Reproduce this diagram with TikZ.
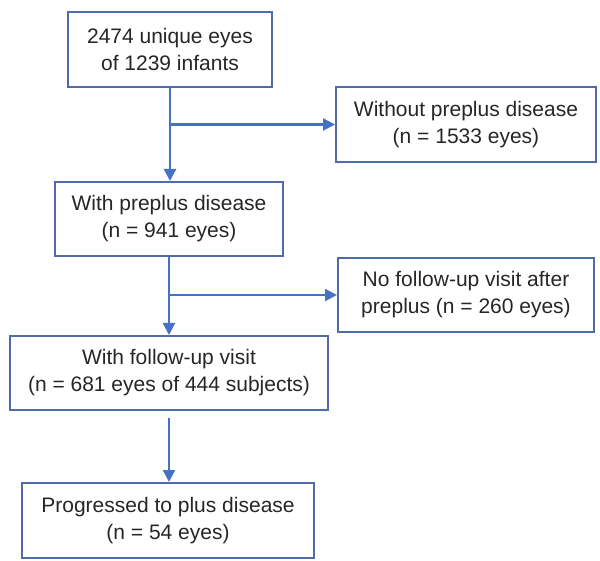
\documentclass[tikz,border=0pt]{standalone}
\usepackage{fontspec}
\setmainfont{Liberation Sans}
\usetikzlibrary{arrows.meta}
\definecolor{boxblue}{HTML}{4F6BAA}
\definecolor{lineblue}{HTML}{4472C4}
\begin{document}
\begin{tikzpicture}[x=1pt,y=-1pt,
  fbox/.style={draw=boxblue,line width=2pt,align=center,inner sep=0pt,
    font=\fontsize{21}{27}\selectfont,text=black!85},
  arr/.style={draw=lineblue,line width=2.2pt,-{Triangle[length=12pt,width=12pt]}}]
\useasboundingbox (0,0) rectangle (600,561);
\node[fbox,minimum width=204pt,minimum height=75pt] (b1) at (170,49.5) {2474 unique eyes\\of 1239 infants};
\node[fbox,minimum width=260pt,minimum height=75pt] (b2) at (466,124.5) {Without preplus disease\\(n = 1533 eyes)};
\node[fbox,minimum width=228pt,minimum height=74pt] (b3) at (169,219) {With preplus disease\\(n = 941 eyes)};
\node[fbox,minimum width=256pt,minimum height=74pt] (b4) at (466,295) {No follow-up visit after\\preplus (n = 260 eyes)};
\node[fbox,minimum width=318pt,minimum height=74pt] (b5) at (169,373) {With follow-up visit\\(n = 681 eyes of 444 subjects)};
\node[fbox,minimum width=292pt,minimum height=75pt] (b6) at (168,520.5) {Progressed to plus disease\\(n = 54 eyes)};
\coordinate (j1) at (b1.south |- b2.west);
\coordinate (j2) at (b3.south |- b4.west);
\coordinate (s5) at ([yshift=-7pt]b5.south);
\draw[arr] (b1.south) -- (b1.south |- b3.north);
\draw[arr] (j1) -- (b2.west);
\draw[arr] (b3.south) -- (b3.south |- b5.north);
\draw[arr] (j2) -- (b4.west);
\draw[arr] (s5) -- (s5 |- b6.north);
\end{tikzpicture}
\end{document}
